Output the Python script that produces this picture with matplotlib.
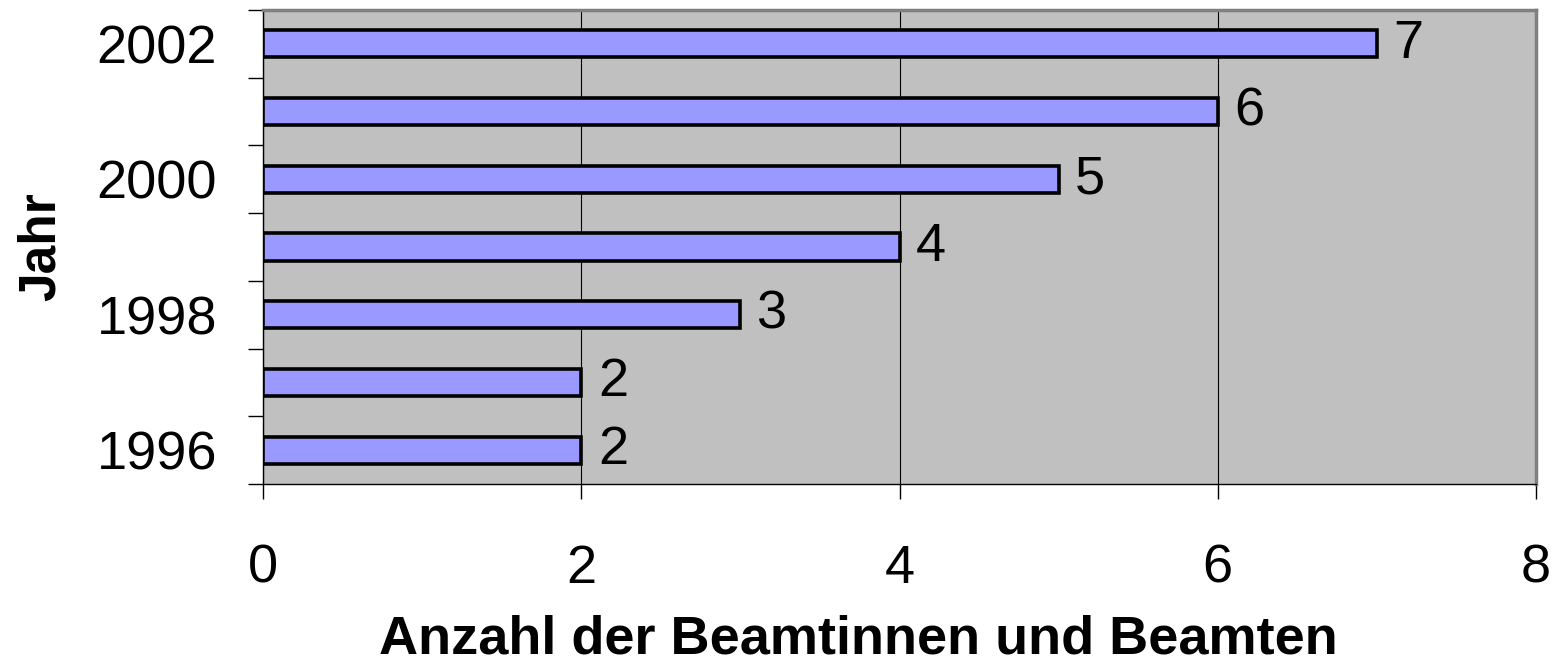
import matplotlib.pyplot as plt
from matplotlib.ticker import FixedLocator

years = [1996, 1997, 1998, 1999, 2000, 2001, 2002]
anzahl = [2, 2, 3, 4, 5, 6, 7]
year_labels = ["1996", "", "1998", "", "2000", "", "2002"]

plt.rcParams["font.family"] = ["Liberation Sans", "DejaVu Sans"]

fig = plt.figure(figsize=(15.6, 6.64), dpi=100)
ax = fig.add_axes([263 / 1560, 1 - 484 / 664, 1273 / 1560, 474 / 664])
ax.set_facecolor("#c0c0c0")

pos = list(range(len(years)))
bars = ax.barh(pos, anzahl, height=0.4, color="#9999ff",
               edgecolor="black", linewidth=2.6, zorder=3)
ax.bar_label(bars, labels=[str(v) for v in anzahl], padding=12, fontsize=39)

ax.set_xlim(0, 8)
ax.set_ylim(-0.5, len(years) - 0.5)
ax.set_xticks([0, 2, 4, 6, 8])
ax.grid(axis="x", color="black", linewidth=0.8, zorder=1)

# Jahreszahlen nur bei jedem zweiten Balken, Striche an den Grenzen
ax.set_yticks(pos)
ax.set_yticklabels(year_labels)
ax.yaxis.set_minor_locator(FixedLocator([p - 0.5 for p in pos] + [pos[-1] + 0.5]))
ax.tick_params(axis="y", which="major", length=0, pad=33, labelsize=39)
ax.tick_params(axis="y", which="minor", length=11, width=1, color="black")
ax.tick_params(axis="x", which="major", length=11, width=1, pad=32, labelsize=39)

for s in ["top", "right"]:
    ax.spines[s].set_color("#808080")
    ax.spines[s].set_linewidth(2.5)
for s in ["left", "bottom"]:
    ax.spines[s].set_color("black")
    ax.spines[s].set_linewidth(1)

ax.set_xlabel("Anzahl der Beamtinnen und Beamten", fontsize=39, fontweight="bold")
ax.xaxis.set_label_coords((858 - 263) / 1273, (484 - 614) / 474)
ax.set_ylabel("Jahr", fontsize=37, fontweight="bold")
ax.yaxis.set_label_coords((66 - 263) / 1273, (484 - 247) / 474)

fig.savefig("out.png", dpi=100)
